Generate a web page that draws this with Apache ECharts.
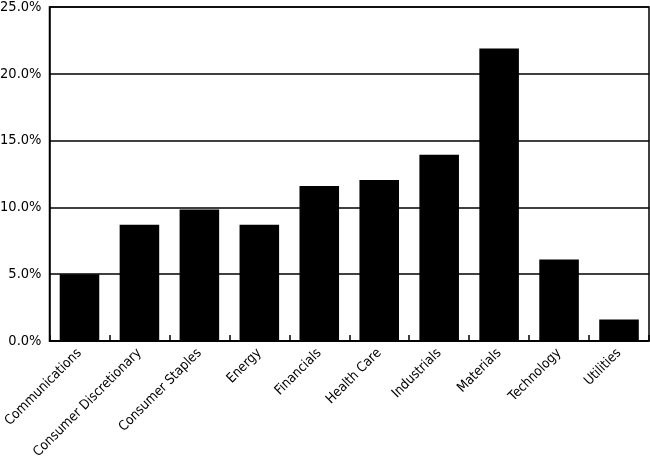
<!DOCTYPE html>
<html><head><meta charset="utf-8">
<script src="https://cdn.jsdelivr.net/npm/echarts@6/dist/echarts.min.js"></script>
<style>html,body{margin:0;padding:0;background:#fff}#c{width:650px;height:463px}</style>
</head><body><div id="c"></div>
<script>
const categories = ["Communications","Consumer Discretionary","Consumer Staples","Energy","Financials","Health Care","Industrials","Materials","Technology","Utilities"];
const values = [5.0, 8.7, 9.85, 8.7, 11.6, 12.05, 13.95, 21.9, 6.1, 1.6];
const yMin = 0, yMax = 25, yStep = 5;
const FONT = "'Liberation Sans Narrow', 'DejaVu Sans Condensed', 'Roboto Condensed', Arial Narrow, sans-serif";
const chart = echarts.init(document.getElementById('c'), null, {renderer:'canvas'});
chart.setOption({
  animation:false,
  grid:{left:49.5, right:1, top:7, bottom:122, containLabel:false, outerBoundsMode:'none', show:true, borderColor:'#000', borderWidth:1.5, backgroundColor:'transparent'},
  xAxis:{type:'category', data:categories,
    axisLine:{lineStyle:{color:'#000', width:1.5}},
    axisTick:{show:true, inside:true, length:6, alignWithLabel:false, lineStyle:{color:'#000', width:1.5}},
    axisLabel:{rotate:45, interval:0, color:'#000', fontFamily:FONT, fontSize:13.5, margin:10}
  },
  yAxis:{type:'value', min:yMin, max:yMax, interval:yStep,
    axisLine:{show:true, lineStyle:{color:'#000', width:1.5}},
    axisTick:{show:false},
    splitLine:{lineStyle:{color:'#000', width:1.5}},
    axisLabel:{color:'#000', fontFamily:FONT, fontSize:14.5, margin:8, formatter:v=>v.toFixed(1)+'%'}
  },
  series:[{type:'bar', data:values, barWidth:'66%', itemStyle:{color:'#000'}}]
});
</script></body></html>
